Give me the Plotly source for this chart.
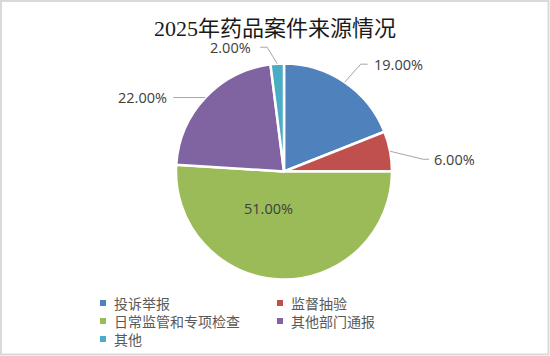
import math
import plotly.graph_objects as go

# ---- data ----
title_text = "2025年药品案件来源情况"
categories = ["投诉举报", "监督抽验", "日常监管和专项检查", "其他部门通报", "其他"]
values = [19.00, 6.00, 51.00, 22.00, 2.00]
colors = ["#4F81BD", "#C0504D", "#9BBB59", "#8064A2", "#4BACC6"]

# ---- layout geometry (pixels) ----
W, H = 550, 356
CX, CY, R = 284, 171.5, 108

# label styles per slice: mode, elbow offset (dx, dy) from edge point, horizontal run, text gap
label_style = [
    ("out", 16, -18, 7, 4),
    ("out", 33, 8, 6, 3),
    ("in", -16, 36.5, 0, 0),
    ("out", 0, 0, -32, -4),
    ("out", -10, -16.5, -7, -7),
]

def px(x):
    return x / W

def py(y):
    return 1 - y / H

fig = go.Figure()
fig.add_trace(go.Pie(
    labels=categories,
    values=values,
    marker=dict(colors=colors, line=dict(color="white", width=2.5)),
    sort=False,
    direction="clockwise",
    rotation=0,
    textinfo="none",
    hoverinfo="label+percent",
    showlegend=False,
    domain=dict(x=[px(CX - R), px(CX + R)], y=[py(CY + R), py(CY - R)]),
))

shapes = []
annotations = []
total = sum(values)
cum = 0.0
label_font = dict(family="Open Sans, Noto Sans CJK SC", size=14.5, color="#404040")
for v, st in zip(values, label_style):
    mid = (cum + v / 2) / total * 2 * math.pi
    cum += v
    txt = f"{v / total * 100:.2f}%"
    mode, dx, dy, run, gap = st
    if mode == "in":
        annotations.append(dict(x=px(CX + dx), y=py(CY + dy), xref="paper", yref="paper",
                                text=txt, showarrow=False, font=label_font,
                                xanchor="center", yanchor="middle"))
        continue
    ex = CX + R * math.sin(mid)
    ey = CY - R * math.cos(mid)
    bx, by = ex + dx, ey + dy
    hx = bx + run
    path = f"M {px(ex)} {py(ey)} L {px(bx)} {py(by)} L {px(hx)} {py(by)}"
    shapes.append(dict(type="path", path=path, xref="paper", yref="paper",
                       line=dict(color="#A6A6A6", width=1)))
    annotations.append(dict(x=px(hx + gap), y=py(by), xref="paper", yref="paper",
                            text=txt, showarrow=False, font=label_font,
                            xanchor="left" if run >= 0 else "right", yanchor="middle"))

# ---- manual legend ----
leg_cols = [103, 280]
leg_rows = [303, 321, 339]
leg_font = dict(family="Noto Sans CJK SC", size=14, color="#595959")
for i, (cat, col) in enumerate(zip(categories, colors)):
    lx = leg_cols[i % 2]
    ly = leg_rows[i // 2]
    shapes.append(dict(type="rect", xref="paper", yref="paper",
                       x0=px(lx - 3), x1=px(lx + 3), y0=py(ly + 3), y1=py(ly - 3),
                       fillcolor=col, line=dict(width=0)))
    annotations.append(dict(x=px(lx + 9), y=py(ly), xref="paper", yref="paper",
                            text=cat, showarrow=False, font=leg_font,
                            xanchor="left", yanchor="middle"))

# border
shapes.append(dict(type="rect", xref="paper", yref="paper",
                   x0=px(1), x1=px(548.5), y0=py(354.5), y1=py(1),
                   line=dict(color="#D9D9D9", width=2), fillcolor="rgba(0,0,0,0)"))

fig.update_layout(
    width=W, height=H,
    margin=dict(l=0, r=0, t=0, b=0),
    paper_bgcolor="white",
    plot_bgcolor="white",
    title=dict(text=title_text, x=0.5, xref="container", xanchor="center",
               y=py(28), yref="container", yanchor="middle",
               font=dict(family="Liberation Serif, Noto Sans CJK SC", size=22, color="#1a1a1a")),
    shapes=shapes,
    annotations=annotations,
)

fig.write_html("out.html")
